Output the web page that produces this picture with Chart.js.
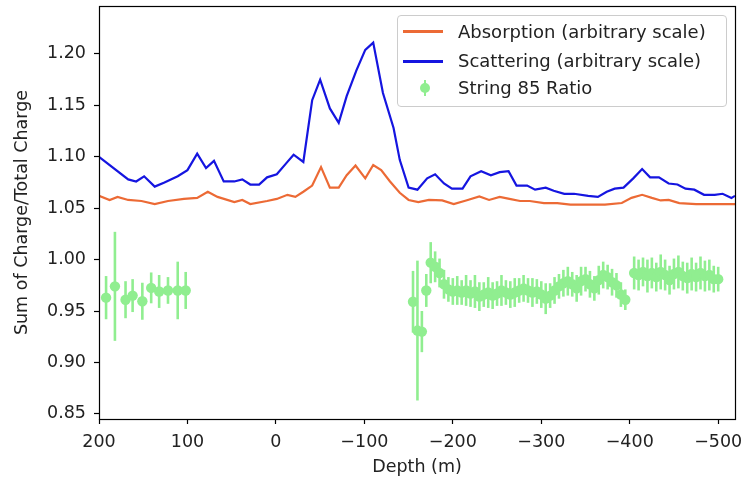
<!DOCTYPE html>
<html>
<head>
<meta charset="utf-8">
<script src="https://cdn.jsdelivr.net/npm/chart.js@4/dist/chart.umd.min.js"></script>
<style>
html,body{margin:0;padding:0;background:#fff;}
#wrap{position:relative;width:742px;height:481px;}
#legend{position:absolute;left:397px;top:15px;width:330px;height:92px;border:1px solid #cccccc;border-radius:4px;background:rgba(255,255,255,0.85);font-family:"DejaVu Sans";font-size:18px;color:#222;box-sizing:border-box;}
.row{position:absolute;left:60px;height:24px;line-height:24px;white-space:nowrap;}
.line{position:absolute;left:5px;width:40px;height:2.5px;}
.mk{position:absolute;left:22px;width:10px;height:10px;border-radius:50%;background:#90ee90;}
.bar{position:absolute;left:25.7px;width:2.6px;height:16px;background:#90ee90;}
</style>
</head>
<body>
<div id="wrap">
<canvas id="c" width="742" height="481"></canvas>
<div id="legend">
  <div class="line" style="top:14px;background:#ec6a35;"></div>
  <div class="row" style="top:4px;">Absorption (arbitrary scale)</div>
  <div class="line" style="top:44px;background:#1515e0;"></div>
  <div class="row" style="top:33px;">Scattering (arbitrary scale)</div>
  <div class="bar" style="top:64px;"></div>
  <div class="mk" style="top:67px;"></div>
  <div class="row" style="top:60px;">String 85 Ratio</div>
</div>
</div>
<script>
// ---- data ----
const absDepth = [200,188,179,167,152,137,122,104,89,77,66,47,38,29,10,-1,-13,-22,-31,-41,-51,-61,-71,-80,-90,-101,-110,-119,-129,-140,-150,-161,-173,-188,-201,-215,-230,-241,-253,-264,-276,-287,-303,-318,-333,-353,-372,-391,-402,-414,-425,-435,-444,-456,-475,-498,-519];
const absVal   = [1.062,1.058,1.061,1.058,1.057,1.054,1.057,1.059,1.060,1.066,1.061,1.056,1.058,1.054,1.057,1.059,1.063,1.061,1.066,1.072,1.090,1.070,1.070,1.082,1.0915,1.079,1.092,1.087,1.076,1.065,1.058,1.056,1.058,1.0575,1.054,1.0575,1.0615,1.058,1.061,1.059,1.057,1.057,1.055,1.055,1.0535,1.0535,1.0535,1.055,1.060,1.063,1.060,1.0575,1.058,1.055,1.054,1.054,1.054];

const scatDepth = [200,167,158,149,137,126,111,100,89,79,70,59,47,38,29,19,10,-1,-13,-20,-31,-41,-50,-61,-71,-80,-91,-101,-110,-121,-133,-140,-150,-160,-171,-180,-190,-199,-211,-220,-232,-243,-253,-263,-272,-284,-293,-305,-314,-326,-337,-353,-364,-374,-383,-393,-404,-414,-423,-433,-444,-454,-463,-473,-484,-496,-505,-515,-519];
const scatVal   = [1.100,1.078,1.076,1.081,1.071,1.075,1.081,1.087,1.103,1.089,1.096,1.076,1.076,1.078,1.073,1.073,1.080,1.083,1.095,1.102,1.095,1.155,1.175,1.147,1.133,1.159,1.184,1.204,1.211,1.162,1.128,1.097,1.070,1.068,1.079,1.083,1.074,1.069,1.069,1.081,1.086,1.082,1.085,1.086,1.072,1.072,1.068,1.070,1.067,1.064,1.064,1.062,1.061,1.066,1.069,1.070,1.079,1.088,1.080,1.080,1.074,1.073,1.069,1.068,1.063,1.063,1.064,1.060,1.062];

const strDepth = [192,182,170,162,151,141,132,122,111,102,
  -155,-160,-165,-170,-175,-180,-185,-190,-195,-200,-205,-210,-215,-220,-225,-230,-235,-240,-245,-250,-255,-260,-265,-270,-275,-280,-285,-290,-295,-300,-305,-310,-315,-320,-325,-330,-335,-340,-345,-350,-355,-360,-365,-370,-375,-380,-385,-390,-395,
  -405,-410,-415,-420,-425,-430,-435,-440,-445,-450,-455,-460,-465,-470,-475,-480,-485,-490,-495,-500];
const strVal = [0.963,0.974,0.961,0.965,0.9595,0.9725,0.969,0.970,0.970,0.970,
  0.959,0.931,0.930,0.970,0.997,0.993,0.987,0.976,0.971,0.969,0.970,0.968,0.970,0.967,0.969,0.964,0.966,0.968,0.965,0.967,0.970,0.968,0.966,0.968,0.970,0.972,0.970,0.968,0.969,0.966,0.962,0.965,0.970,0.974,0.977,0.979,0.976,0.972,0.979,0.981,0.976,0.972,0.980,0.985,0.983,0.978,0.975,0.966,0.961,
  0.987,0.985,0.988,0.984,0.987,0.983,0.988,0.985,0.980,0.986,0.988,0.984,0.982,0.986,0.983,0.987,0.984,0.985,0.981,0.981];
const strErr = [0.021,0.053,0.018,0.016,0.018,0.015,0.016,0.013,0.028,0.018,
  0.030,0.068,0.020,0.016,0.020,0.015,0.014,0.014,0.012,0.013,0.014,0.012,0.015,0.013,0.016,0.014,0.012,0.015,0.013,0.012,0.015,0.012,0.013,0.014,0.012,0.013,0.012,0.014,0.012,0.013,0.015,0.012,0.013,0.012,0.013,0.014,0.012,0.013,0.014,0.012,0.013,0.012,0.014,0.013,0.012,0.013,0.012,0.012,0.010,
  0.016,0.015,0.014,0.016,0.015,0.014,0.017,0.015,0.014,0.015,0.016,0.014,0.015,0.016,0.014,0.016,0.015,0.015,0.013,0.012];

const xTicks = [200,100,0,-100,-200,-300,-400,-500];
const yTicks = [0.85,0.90,0.95,1.00,1.05,1.10,1.15,1.20];

// ---- styling ----
const FONT = 'DejaVu Sans';
const ORANGE = '#ec6a35', BLUE = '#1515e0', GREEN = '#90ee90';

const pts = (xs, ys) => xs.map((x, i) => ({x: x, y: ys[i]}));

const errorBars = {
  id: 'errorBars',
  beforeDatasetsDraw(chart) {
    const {ctx, scales: {x, y}, chartArea: a} = chart;
    ctx.save();
    ctx.beginPath();
    ctx.rect(a.left, a.top, a.right - a.left, a.bottom - a.top);
    ctx.clip();
    ctx.strokeStyle = GREEN;
    ctx.lineWidth = 2.6;
    for (let i = 0; i < strDepth.length; i++) {
      const px = x.getPixelForValue(strDepth[i]);
      ctx.beginPath();
      ctx.moveTo(px, y.getPixelForValue(strVal[i] - strErr[i]));
      ctx.lineTo(px, y.getPixelForValue(strVal[i] + strErr[i]));
      ctx.stroke();
    }
    ctx.restore();
  }
};
const frame = {
  id: 'frame',
  afterDraw(chart) {
    const {ctx, chartArea: a} = chart;
    ctx.save();
    ctx.strokeStyle = '#000';
    ctx.lineWidth = 1.2;
    ctx.strokeRect(Math.round(a.left) + 0.5, Math.round(a.top) + 0.5, Math.round(a.right - a.left), Math.round(a.bottom - a.top));
    ctx.restore();
  }
};

new Chart(document.getElementById('c'), {
  type: 'line',
  data: {
    datasets: [
      {label: 'Absorption (arbitrary scale)', data: pts(absDepth, absVal), borderColor: ORANGE, borderWidth: 2.2, pointRadius: 0, tension: 0, fill: false},
      {label: 'Scattering (arbitrary scale)', data: pts(scatDepth, scatVal), borderColor: BLUE, borderWidth: 2.2, pointRadius: 0, tension: 0, fill: false},
      {label: 'String 85 Ratio', data: pts(strDepth, strVal), showLine: false, pointRadius: 5.2, pointBackgroundColor: GREEN, pointBorderWidth: 0, borderColor: GREEN}
    ]
  },
  options: {
    responsive: false,
    animation: false,
    devicePixelRatio: 1,
    layout: {padding: {top: 6, right: 7, left: 0, bottom: 0}},
    plugins: {legend: {display: false}, tooltip: {enabled: false}},
    scales: {
      x: {
        type: 'linear', min: -519, max: 200, reverse: true,
        afterBuildTicks: s => { s.ticks = xTicks.map(v => ({value: v})); },
        afterFit: s => { s.height = 62; s.paddingLeft = 0; s.paddingRight = 0; },
        ticks: {autoSkip: false, maxRotation: 0, padding: 8, color: '#222', font: {family: FONT, size: 17.5},
          callback: v => v < 0 ? '\u2212' + Math.abs(v) : String(v)},
        grid: {drawOnChartArea: false, drawTicks: true, tickLength: 5, color: '#000', tickColor: '#000', tickWidth: 1.2},
        border: {display: false},
        title: {display: true, text: 'Depth (m)', color: '#222', font: {family: FONT, size: 17.5, lineHeight: 1.2}, padding: {bottom: 3, top: 0}}
      },
      y: {
        type: 'linear', min: 0.845, max: 1.2466,
        afterBuildTicks: s => { s.ticks = yTicks.map(v => ({value: v})); },
        afterFit: s => { s.width = 99; s.paddingTop = 0; s.paddingBottom = 0; },
        ticks: {autoSkip: false, padding: 8, color: '#222', font: {family: FONT, size: 17.5},
          callback: v => Number(v).toFixed(2)},
        grid: {drawOnChartArea: false, drawTicks: true, tickLength: 5, color: '#000', tickColor: '#000', tickWidth: 1.2},
        border: {display: false},
        title: {display: true, text: 'Sum of Charge/Total Charge', color: '#222', font: {family: FONT, size: 17.5, lineHeight: 1.2}, padding: {top: 12, bottom: 0}}
      }
    }
  },
  plugins: [errorBars, frame]
});
</script>
</body>
</html>
